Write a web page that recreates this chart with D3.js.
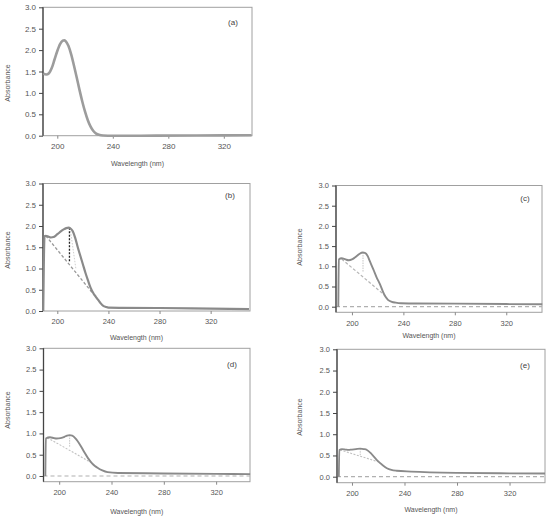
<!DOCTYPE html>
<html>
<head>
<meta charset="utf-8">
<script src="https://cdn.jsdelivr.net/npm/d3@7"></script>
<style>
  body { margin: 0; background: #fff; }
  svg { display: block; font-family: "Liberation Sans", Arial, sans-serif; }
</style>
</head>
<body>
<div id="chart"></div>
<script>
// tick values shared by all five spectra
const xTicks = [200, 240, 280, 320];
const yTicks = [0, 0.5, 1, 1.5, 2, 2.5, 3];
const panelLabels = ["(a)", "(b)", "(c)", "(d)", "(e)"];

// (a) reference spectrum
const wlA  = [190, 192, 194, 196, 198, 200, 202, 204, 205, 206, 208, 210, 212, 214, 216, 218, 220, 222, 224, 226, 228, 230, 233, 240, 260, 300, 340];
const absA = [1.45, 1.43, 1.46, 1.58, 1.78, 1.98, 2.14, 2.22, 2.23, 2.21, 2.10, 1.90, 1.64, 1.36, 1.07, 0.80, 0.56, 0.36, 0.21, 0.11, 0.05, 0.02, 0.005, 0.0, 0.0, 0.005, 0.01];

// (b)
const wlB  = [189, 190, 191, 193, 195, 197, 199, 201, 203, 205, 207, 209, 210, 212, 214, 216, 218, 220, 222, 224, 226, 228, 230, 232, 234, 236, 238, 240, 250, 280, 320, 350];
const absB = [0, 1.76, 1.77, 1.75, 1.73, 1.74, 1.78, 1.83, 1.88, 1.92, 1.95, 1.96, 1.95, 1.88, 1.72, 1.50, 1.30, 1.10, 0.90, 0.72, 0.55, 0.43, 0.34, 0.26, 0.18, 0.12, 0.095, 0.08, 0.075, 0.07, 0.055, 0.045];
const baseB  = [[191, 1.77], [232, 0.26]];
const dropB  = [[209.5, 1.96], [209.5, 1.17]];
const faintB = [[210, 1.95], [214.5, 1.0]];

// (c)
const wlC  = [189.4, 189.8, 192, 195, 197.5, 200, 202, 204, 206, 208.5, 210, 212, 214, 216.8, 219, 222, 224, 226, 228, 231, 234, 238, 250, 280, 320, 348];
const absC = [0, 1.17, 1.20, 1.17, 1.15, 1.17, 1.21, 1.26, 1.31, 1.34, 1.33, 1.27, 1.12, 0.91, 0.74, 0.54, 0.38, 0.25, 0.17, 0.12, 0.10, 0.085, 0.08, 0.075, 0.065, 0.06];
const baseC  = [[192, 1.18], [226, 0.27]];
const dropC  = [[208.6, 1.34], [208.6, 0.85]];

// (d)
const wlD  = [189.4, 189.8, 193, 196, 198, 201, 204, 206, 208, 210, 212.6, 216, 219, 222, 224, 226, 229, 233, 237, 245, 280, 320, 346];
const absD = [0, 0.88, 0.91, 0.89, 0.88, 0.89, 0.92, 0.95, 0.96, 0.95, 0.88, 0.73, 0.57, 0.42, 0.34, 0.27, 0.20, 0.13, 0.09, 0.07, 0.06, 0.05, 0.045];
const baseD  = [[191, 0.90], [224, 0.32]];
const dropD  = [[208, 0.96], [208, 0.68]];

// (e)
const wlE  = [190, 190.4, 192.4, 195, 197.4, 200, 203, 206.3, 209, 211.4, 215, 219, 223, 226.6, 230, 234, 245, 280, 320, 347];
const absE = [0, 0.63, 0.65, 0.64, 0.63, 0.64, 0.65, 0.66, 0.65, 0.63, 0.53, 0.39, 0.28, 0.20, 0.16, 0.14, 0.12, 0.09, 0.08, 0.075];
const baseE  = [[191, 0.63], [220, 0.35]];
const dropE  = [[206.3, 0.66], [206.3, 0.50]];

const W = 550, H = 519;
const svg = d3.select("#chart").append("svg").attr("width", W).attr("height", H);

// pixel layout of each panel (box edges, y of 3.0 / 0.0 / box bottom)
const panels = [
  {wl: wlA, ab: absA, x0: 43, x1: 252, dom: [189.7, 340.3], yTop: 7.3, yZero: 135.7, yBot: 135.7,
   absX: 7, absY: 83, wlY: 163, tagX: 233, tagY: 22, font: 8, stroke: "#9c9c9c", sw: 2.6},
  {wl: wlB, ab: absB, x0: 43, x1: 250, dom: [188.8, 350.8], yTop: 183.5, yZero: 311, yBot: 311,
   absX: 7, absY: 250, wlY: 337, tagX: 230, tagY: 195, font: 7.5, stroke: "#8a8a8a", sw: 2.2,
   extra: [{pts: baseB, color: "#999", dash: "3,2", w: 1.3},
           {pts: faintB, color: "#cfcfcf", dash: "1.5,1.5", w: 1},
           {pts: dropB, color: "#222", dash: "2,1.5", w: 1.3}]},
  {wl: wlC, ab: absC, x0: 336, x1: 542, dom: [187.6, 347.8], yTop: 185.5, yZero: 306.7, yBot: 312.3,
   absX: 299, absY: 247, wlY: 335, tagX: 525, tagY: 198, font: 7.5, stroke: "#8a8a8a", sw: 1.9, zero: true,
   extra: [{pts: baseC, color: "#b5b5b5", dash: "3,2", w: 1.2},
           {pts: dropC, color: "#c4c4c4", dash: "1.5,1", w: 1}]},
  {wl: wlD, ab: absD, x0: 43.5, x1: 250, dom: [188, 345.9], yTop: 348.3, yZero: 476, yBot: 481.7,
   absX: 7.5, absY: 410, wlY: 511, tagX: 232, tagY: 364, font: 7.5, stroke: "#8a8a8a", sw: 1.9, zero: true,
   extra: [{pts: baseD, color: "#c0c0c0", dash: "2,1.5", w: 1.1},
           {pts: dropD, color: "#c4c4c4", dash: "1.5,1", w: 1}]},
  {wl: wlE, ab: absE, x0: 337, x1: 545, dom: [188.6, 347], yTop: 349.3, yZero: 476.7, yBot: 482.7,
   absX: 299.5, absY: 417, wlY: 509.5, tagX: 525, tagY: 365, font: 7.5, stroke: "#8a8a8a", sw: 1.8, zero: true,
   extra: [{pts: baseE, color: "#c0c0c0", dash: "2,1.5", w: 1.1},
           {pts: dropE, color: "#c4c4c4", dash: "1.5,1", w: 1}]}
];

panels.forEach(function(p, pi){
  const x = d3.scaleLinear().domain(p.dom).range([p.x0, p.x1]);
  const y = d3.scaleLinear().domain([0, 3]).range([p.yZero, p.yTop]);
  const g = svg.append("g");

  // box
  g.append("rect")
    .attr("x", p.x0).attr("y", p.yTop)
    .attr("width", p.x1 - p.x0).attr("height", p.yBot - p.yTop)
    .attr("fill", "none").attr("stroke", "#a0a0a0").attr("stroke-width", 1);

  // zero reference line
  if(p.zero){
    g.append("line")
      .attr("x1", p.x0).attr("x2", p.x1)
      .attr("y1", y(0)).attr("y2", y(0))
      .attr("stroke", "#b0b0b0").attr("stroke-width", 1.2)
      .attr("stroke-dasharray", "4,3");
  }

  // left axis
  const ax = g.append("g")
    .attr("transform", "translate(" + p.x0 + ",0)")
    .call(d3.axisLeft(y).tickValues(yTicks).tickFormat(d3.format(".1f")).tickSize(4).tickPadding(3));
  ax.select(".domain").attr("stroke", "#444").attr("stroke-width", 1.3)
    .attr("d", "M0," + p.yBot + "V" + p.yTop);
  ax.selectAll(".tick line").attr("stroke", "#444");
  ax.selectAll("text").attr("fill", "#555").style("font-size", p.font + "px");

  // bottom axis
  const bx = g.append("g")
    .attr("transform", "translate(0," + p.yBot + ")")
    .call(d3.axisBottom(x).tickValues(xTicks).tickSize(3).tickPadding(5));
  bx.select(".domain").remove();
  bx.selectAll(".tick line").attr("stroke", "#888");
  bx.selectAll("text").attr("fill", "#555").style("font-size", p.font + "px");

  // helper lines (tangent baseline and peak drop)
  (p.extra || []).forEach(function(e){
    g.append("line")
      .attr("x1", x(e.pts[0][0])).attr("y1", y(e.pts[0][1]))
      .attr("x2", x(e.pts[1][0])).attr("y2", y(e.pts[1][1]))
      .attr("stroke", e.color).attr("stroke-width", e.w)
      .attr("stroke-dasharray", e.dash);
  });

  // spectrum
  const line = d3.line()
    .x(function(d){ return x(d[0]); })
    .y(function(d){ return y(d[1]); })
    .curve(d3.curveMonotoneX);
  g.append("path")
    .datum(p.wl.map(function(w, i){ return [w, p.ab[i]]; }))
    .attr("d", line)
    .attr("fill", "none")
    .attr("stroke", p.stroke)
    .attr("stroke-width", p.sw)
    .attr("stroke-linejoin", "round");

  // labels
  g.append("text")
    .attr("transform", "translate(" + p.absX + "," + p.absY + ") rotate(-90)")
    .attr("text-anchor", "middle").attr("dominant-baseline", "central")
    .style("font-size", "7px").attr("fill", "#555")
    .text("Absorbance");
  g.append("text")
    .attr("x", (p.x0 + p.x1) / 2 - 10).attr("y", p.wlY)
    .attr("text-anchor", "middle").attr("dominant-baseline", "central")
    .style("font-size", "7px").attr("fill", "#555")
    .text("Wavelength (nm)");
  g.append("text")
    .attr("x", p.tagX).attr("y", p.tagY)
    .attr("text-anchor", "middle").attr("dominant-baseline", "central")
    .style("font-size", "8px").attr("fill", "#444")
    .text(panelLabels[pi]);
});
</script>
</body>
</html>
